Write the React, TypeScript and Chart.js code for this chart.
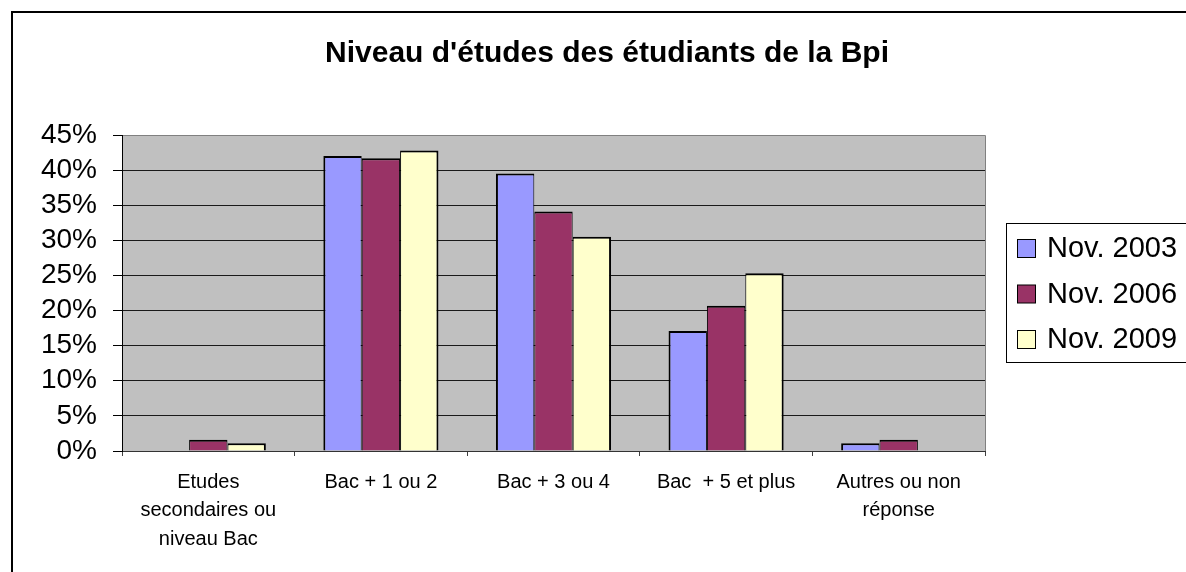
import { useEffect, useRef } from 'react';
import { Chart, registerables } from 'chart.js';

Chart.register(...registerables);

const FONT = '"Liberation Sans", Arial, Helvetica, sans-serif';

const titleText = "Niveau d'études des étudiants de la Bpi";
const categories: (string | string[])[] = [
  ['Etudes', 'secondaires ou', 'niveau Bac'],
  'Bac + 1 ou 2',
  'Bac + 3 ou 4',
  'Bac  + 5 et plus',
  ['Autres ou non', 'réponse'],
];
const seriesNames = ['Nov. 2003', 'Nov. 2006', 'Nov. 2009'];
const seriesColors = ['#9999FF', '#993366', '#FFFFCC'];
const nov2003 = [0, 42.0, 39.5, 17.1, 1.1];
const nov2006 = [1.6, 41.7, 34.1, 20.7, 1.6];
const nov2009 = [1.1, 42.8, 30.5, 25.3, 0];
const yMin = 0;
const yMax = 45;
const yStep = 5;

const framePlugin = {
  id: 'framePlugin',
  beforeDraw(chart: any) {
    const { ctx, chartArea } = chart;
    ctx.save();
    ctx.fillStyle = '#000';
    ctx.fillRect(11, 11, chart.width, 2);
    ctx.fillRect(11, 11, 2, chart.height);
    ctx.fillStyle = '#C0C0C0';
    ctx.fillRect(chartArea.left, chartArea.top, chartArea.right - chartArea.left, chartArea.bottom - chartArea.top);
    ctx.strokeStyle = '#808080';
    ctx.lineWidth = 1;
    ctx.beginPath();
    ctx.moveTo(chartArea.left, chartArea.top + 0.5);
    ctx.lineTo(chartArea.right + 0.5, chartArea.top + 0.5);
    ctx.lineTo(chartArea.right + 0.5, chartArea.bottom);
    ctx.stroke();
    ctx.restore();
  },
  afterDraw(chart: any) {
    const { ctx } = chart;
    ctx.save();
    ctx.fillStyle = '#000';
    ctx.font = `bold 30px ${FONT}`;
    ctx.textAlign = 'center';
    ctx.textBaseline = 'alphabetic';
    ctx.fillText(titleText, 607, 62);
    ctx.strokeStyle = '#000';
    ctx.lineWidth = 1;
    ctx.strokeRect(1006.5, 223.5, 220, 139);
    ctx.font = `29px ${FONT}`;
    ctx.textAlign = 'left';
    chart.data.datasets.forEach((ds: any, i: number) => {
      const base = 257 + i * 45.5;
      ctx.fillStyle = ds.backgroundColor;
      ctx.fillRect(1017.5, base - 17.5, 18, 18);
      ctx.strokeStyle = '#000';
      ctx.strokeRect(1017.5, base - 17.5, 18, 18);
      ctx.fillStyle = '#000';
      ctx.fillText(ds.label, 1047, base);
    });
    ctx.restore();
  },
};

export default function App() {
  const ref = useRef<HTMLCanvasElement>(null);
  useEffect(() => {
    document.body.style.margin = '0';
    const canvas = ref.current!;
    const borders = [
      { top: 2, left: 2, right: 1, bottom: 0 },
      { top: 2, left: 1, right: 1, bottom: 0 },
      { top: 2, left: 1, right: 2, bottom: 0 },
    ];
    const chart = new Chart(canvas, {
      type: 'bar',
      data: {
        labels: categories as any,
        datasets: [nov2003, nov2006, nov2009].map((d, i) => ({
          label: seriesNames[i],
          data: d,
          backgroundColor: seriesColors[i],
          borderColor: '#000',
          borderWidth: borders[i] as any,
          borderSkipped: 'start' as any,
          categoryPercentage: 0.667,
          barPercentage: 1,
        })),
      },
      options: {
        animation: false,
        responsive: false,
        maintainAspectRatio: false,
        devicePixelRatio: 1,
        layout: { padding: { top: 135, left: 12, right: 201, bottom: 21 } },
        plugins: {
          legend: { display: false },
          title: { display: false },
          tooltip: { enabled: false },
        },
        scales: {
          x: {
            afterFit: (s: any) => { s.height = 100; },
            grid: {
              offset: true,
              drawOnChartArea: false,
              drawTicks: true,
              tickLength: 5,
              color: '#404040',
            },
            border: { display: true, color: '#333', width: 1 },
            ticks: {
              color: '#000',
              font: { family: FONT, size: 20, lineHeight: 1.43 },
              padding: 12,
              maxRotation: 0,
              minRotation: 0,
              autoSkip: false,
            },
          },
          y: {
            min: yMin,
            max: yMax,
            afterFit: (s: any) => { s.width = 110; },
            grid: {
              color: (c: any) => (c.tick && c.tick.value === yMax ? '#808080' : '#1a1a1a'),
              tickColor: '#000',
              lineWidth: 1,
              drawTicks: true,
              tickLength: 9,
            },
            border: { display: true, color: '#000', width: 1 },
            ticks: {
              stepSize: yStep,
              autoSkip: false,
              color: '#000',
              font: { family: FONT, size: 28 },
              padding: 16,
              callback: (v: any) => `${v}%`,
            },
          },
        },
      },
      plugins: [framePlugin],
    });
    return () => chart.destroy();
  }, []);
  return <canvas ref={ref} width={1186} height={572} style={{ display: 'block' }} />;
}
